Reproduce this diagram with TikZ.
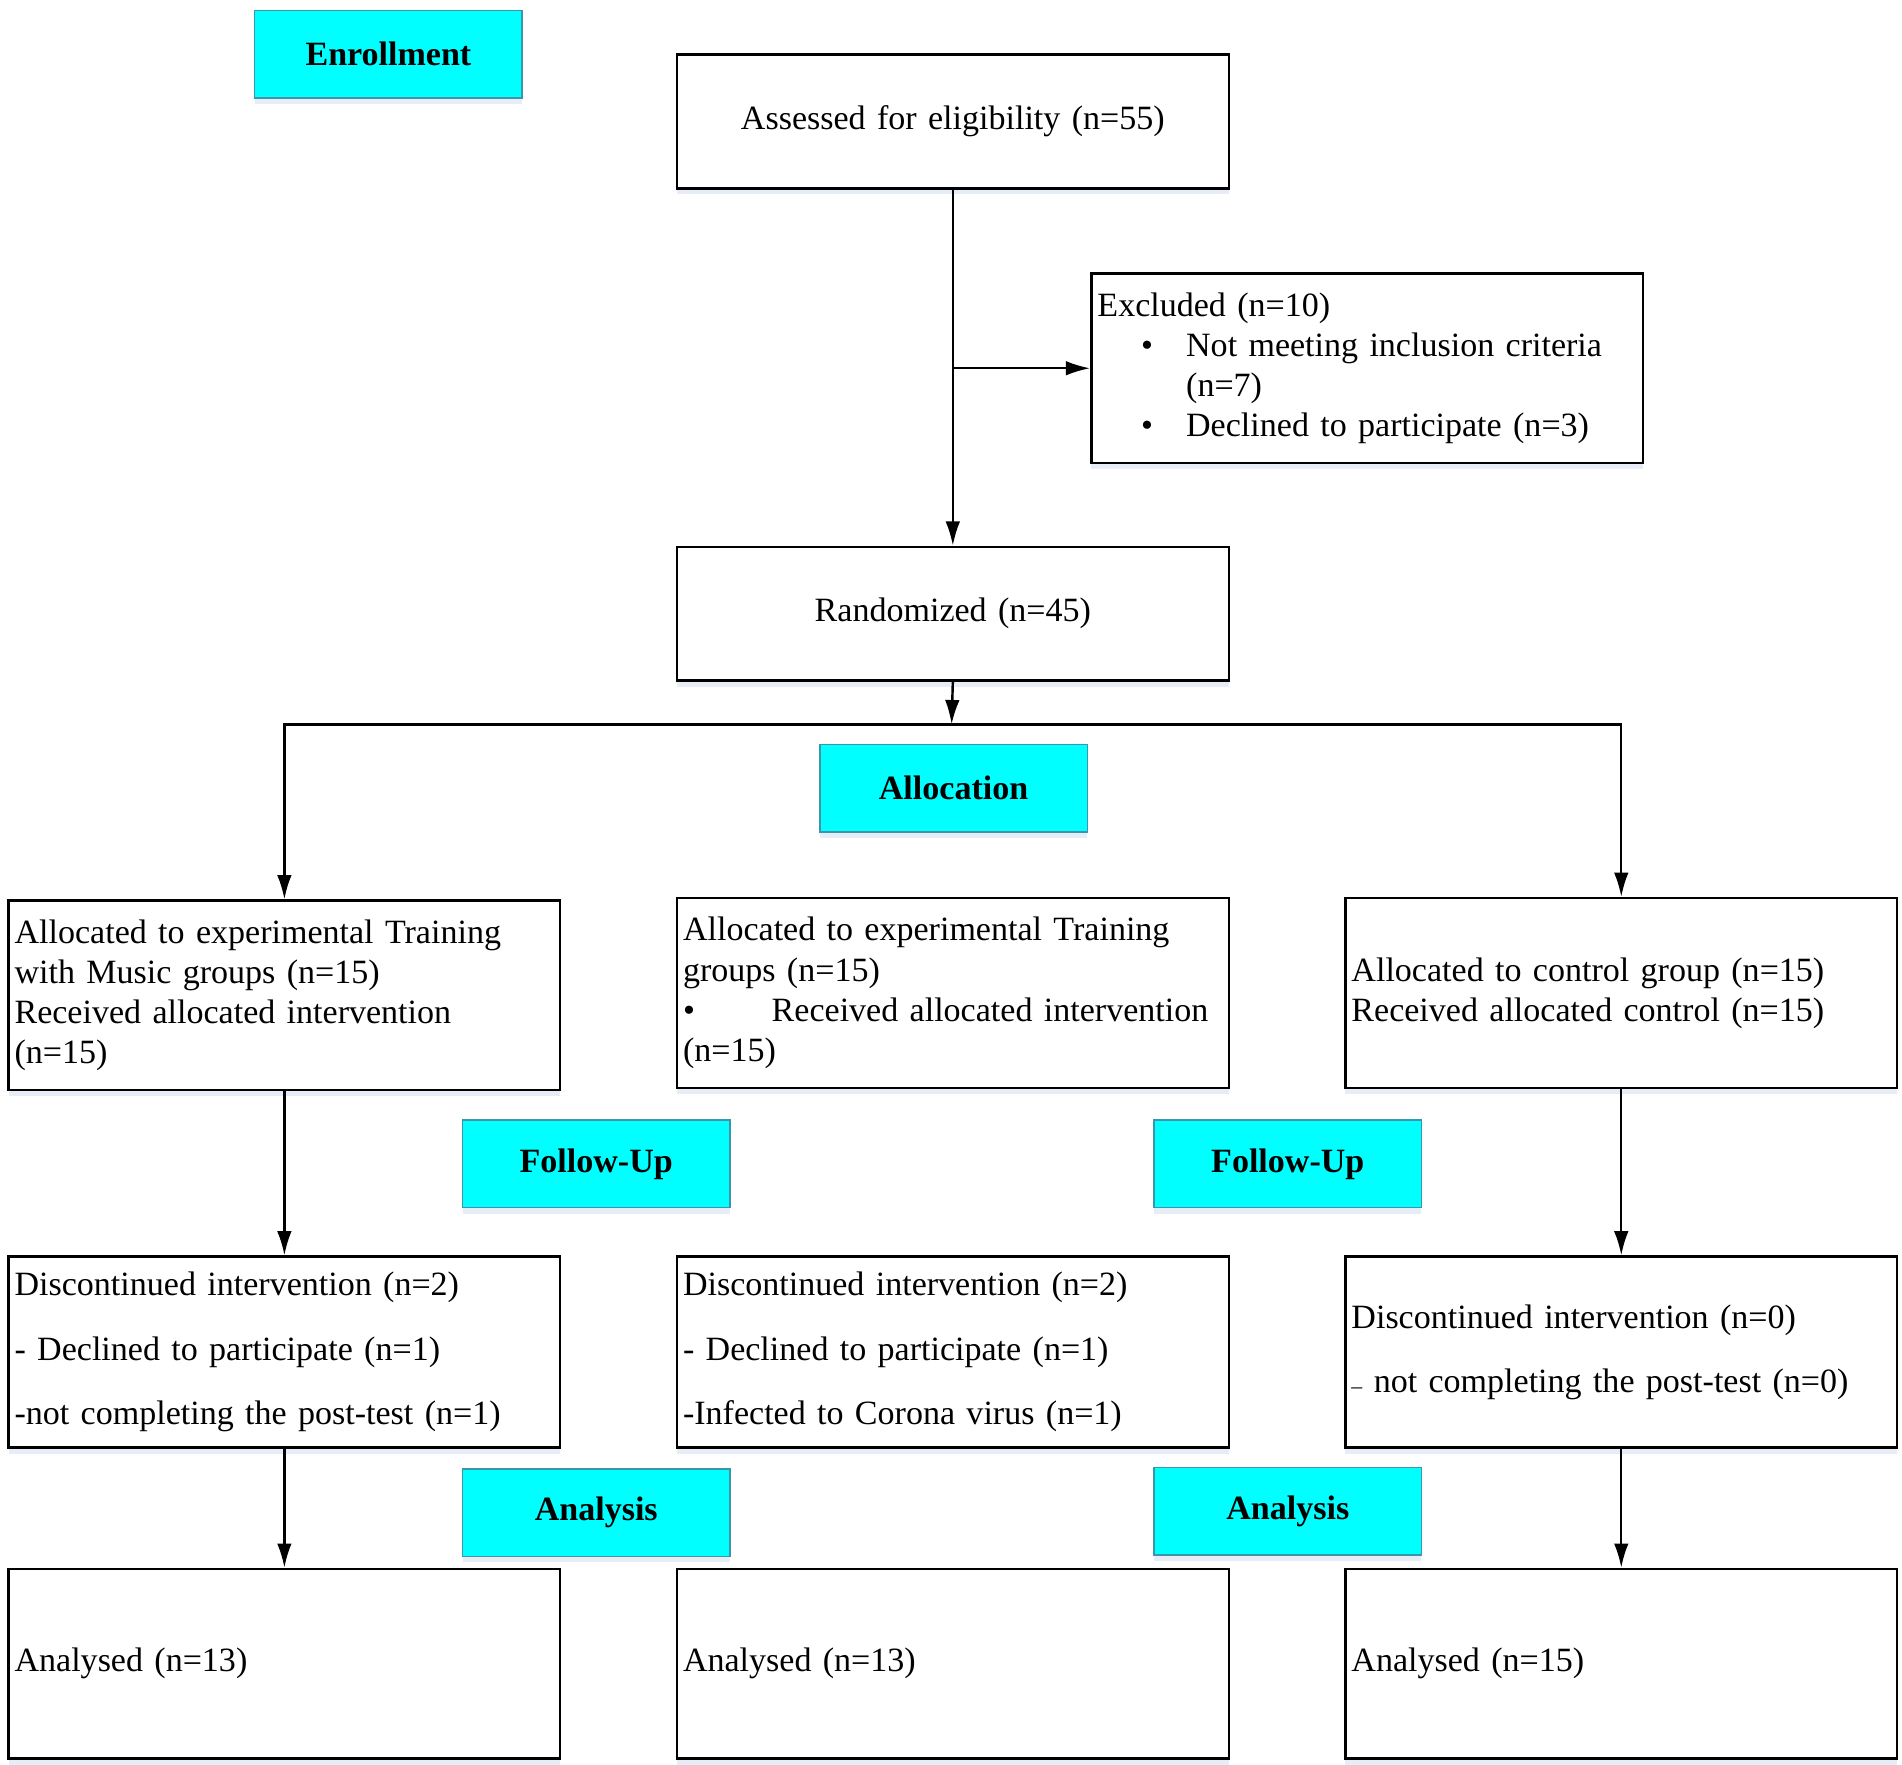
\documentclass[tikz,border=0pt]{standalone}
\usepackage{fontspec}
\setmainfont{Liberation Serif}
\usetikzlibrary{arrows.meta,shadows}
\definecolor{labcyan}{RGB}{0,255,255}
\definecolor{labedge}{RGB}{60,150,170}
\definecolor{shade}{RGB}{200,215,235}
\begin{document}
\begin{tikzpicture}[x=1pt,y=-1pt,
  myshadow/.style={drop shadow={shadow xshift=0pt,shadow yshift=-5pt,opacity=0.45,fill=shade}},
  box/.style={draw=black,line width=2pt,fill=white,rectangle,inner xsep=5pt,inner ysep=0pt,
    anchor=north west,minimum width=454pt,text width=444pt,align=left,
    font=\fontsize{28}{33}\selectfont,myshadow},
  cbox/.style={box,align=center},
  lab/.style={rectangle,fill=labcyan,draw=labedge,line width=1.2pt,anchor=north west,
    minimum width=220pt,minimum height=72pt,inner sep=0pt,
    font=\bfseries\fontsize{28}{33}\selectfont,myshadow},
  arr/.style={line width=2pt,-{Latex[length=20pt,width=12pt]}},
  wide/.style={font=\fontsize{28}{53}\selectfont}]
\useasboundingbox (0,0) rectangle (1565,1451.5);

% phase labels
\node[lab] (enrol) at (209,8) {Enrollment};
\node[lab] (alloclab) at (674,612) {Allocation};
\node[lab] (fu1) at (380,921) {Follow-Up};
\node[lab] (fu2) at (949,921) {Follow-Up};
\node[lab] (an1) at (380,1208) {Analysis};
\node[lab] (an2) at (949,1207) {Analysis};

% enrollment
\node[cbox,minimum height=110pt] (assess) at (556,44) {Assessed for eligibility (n=55)};
\node[box,minimum height=156pt] (excl) at (897,224) {Excluded (n=10)\\
\hspace*{36pt}\makebox[37pt][l]{•}Not meeting inclusion criteria\\
\hspace*{73pt}(n=7)\\
\hspace*{36pt}\makebox[37pt][l]{•}Declined to participate (n=3)};
\node[cbox,minimum height=110pt] (rand) at (556,449) {Randomized (n=45)};

% allocation
\node[box,minimum height=156pt] (a1) at (6,740) {Allocated to experimental Training\\
with Music groups (n=15)\\
Received allocated intervention\\
(n=15)};
\node[box,minimum height=156pt] (a2) at (556,738) {Allocated to experimental Training\\
groups (n=15)\\
\makebox[73pt][l]{•}Received allocated intervention\\
(n=15)};
\node[box,minimum height=156pt] (a3) at (1106,738) {Allocated to control group (n=15)\\
Received allocated control (n=15)};

% follow-up
\node[box,wide,minimum height=157pt] (f1) at (6,1033) {Discontinued intervention (n=2)\\
- Declined to participate (n=1)\\
-not completing the post-test (n=1)};
\node[box,wide,minimum height=157pt] (f2) at (556,1033) {Discontinued intervention (n=2)\\
- Declined to participate (n=1)\\
-Infected to Corona virus (n=1)};
\node[box,wide,minimum height=157pt] (f3) at (1106,1033) {Discontinued intervention (n=0)\\
\raisebox{-1pt}{\fontsize{18}{18}\selectfont –} not completing the post-test (n=0)};

% analysis
\node[box,minimum height=156pt] (r1) at (6,1290) {Analysed (n=13)};
\node[box,minimum height=156pt] (r2) at (556,1290) {Analysed (n=13)};
\node[box,minimum height=156pt] (r3) at (1106,1290) {Analysed (n=15)};

% connectors
\draw[arr] (assess.south) -- (rand.north);
\draw[arr] (assess.south |- excl.west) -- (excl.west);
\coordinate (split) at (783,596);
\draw[arr] (rand.south) -- (split);
\draw[arr] (split) -| (a1.north);
\draw[arr] (split) -| (a3.north);
\draw[arr] (a1.south) -- (f1.north);
\draw[arr] (a3.south) -- (f3.north);
\draw[arr] (f1.south) -- (r1.north);
\draw[arr] (f3.south) -- (r3.north);
\end{tikzpicture}
\end{document}
